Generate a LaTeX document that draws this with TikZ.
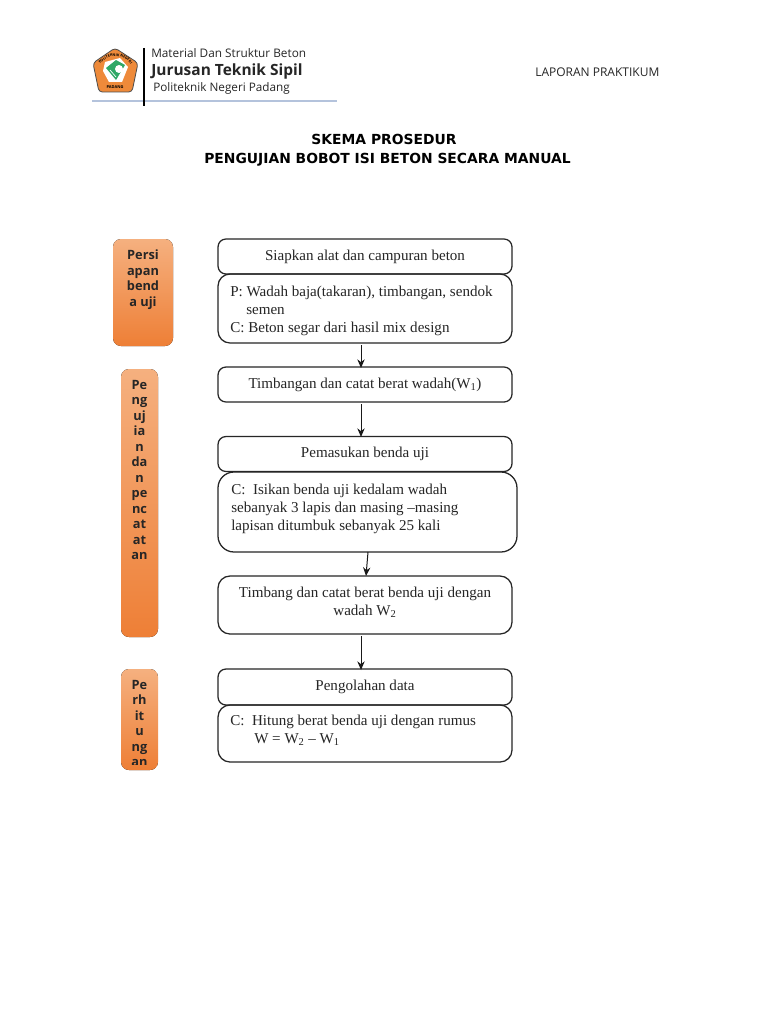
\documentclass[tikz,border=0pt]{standalone}
\usepackage{fontspec}
\setmainfont{Liberation Serif}
\newfontfamily\hdr{Open Sans}
\newfontfamily\vrd{DejaVu Sans}
\usetikzlibrary{arrows.meta,decorations.text}
\definecolor{orA}{HTML}{F5B07F}
\definecolor{orB}{HTML}{EE7F36}
\definecolor{logoor}{HTML}{EE8A3A}
\definecolor{logogreen}{HTML}{2FA866}
\definecolor{lineblue}{HTML}{B4C3DC}
\tikzset{
  x=0.75pt,y=-0.75pt,
  flowbox/.style={draw=black!85,line width=0.95pt,rounded corners=6pt,inner sep=0pt,outer sep=0pt,align=center,font=\fontsize{11.3}{13.5}\selectfont,text=black!85},
  flowtext/.style={inner sep=0pt,align=left,anchor=north west,text=black!85,font=\fontsize{11.3}{13.5}\selectfont},
  sidebox/.style={rounded corners=6pt,top color=orA,bottom color=orB,inner sep=0pt,outer sep=0pt},
  sidetext/.style={inner sep=0pt,align=center,anchor=north,text=black!85,font=\hdr\bfseries\fontsize{9.6}{11.6}\selectfont},
  arrowline/.style={draw=black!90,line width=0.75pt,-{Stealth[length=6.5pt,width=5.5pt]}},
  hdrtext/.style={inner sep=0pt,anchor=west,text=black!85},
  titletext/.style={inner sep=0pt,anchor=center,font=\vrd\bfseries\fontsize{10.4}{12}\selectfont}
}
\begin{document}
\begin{tikzpicture}
\useasboundingbox (0,0) rectangle (768,1024);
\fill[white] (0,0) rectangle (768,1024);
% logo
\fill[logoor,draw=black!70,line width=0.6pt,rounded corners=2.5pt] (115,48) -- (138,63) -- (132,92) -- (99,92) -- (93,63) -- cycle;
\fill[white] (105,62) -- (120,58) -- (128,67) -- (122,82) -- (109,82) -- (103,71) -- cycle;
\fill[logogreen] (106,68) -- (116,60) -- (125,65) -- (116,80) -- cycle;
\fill[white] (119,69) circle[radius=4];
\draw[white,line width=0.5pt] (110,70) -- (116,77);
\path[postaction={decorate,decoration={text along path,text align=center,text={|\hdr\bfseries\fontsize{2.7}{3}\selectfont|POLITEKNIK NEGERI}}}] (97,78) .. controls (95,49) and (136,49) .. (134,78);
\node[inner sep=0pt,font=\hdr\bfseries\fontsize{3}{3}\selectfont] (logot) at (115,87) {PADANG};
% header
\draw[lineblue,line width=1.4pt] (92,101) -- (337,101);
\draw[black,line width=1.2pt] (144,48) -- (144,106);
\node[hdrtext,font=\hdr\fontsize{8.85}{11}\selectfont] (h1) at (151,53) {Material Dan Struktur Beton};
\node[hdrtext,font=\hdr\bfseries\fontsize{11.6}{13}\selectfont] (h2) at (151,71) {Jurusan Teknik Sipil};
\node[hdrtext,font=\hdr\fontsize{8.8}{11}\selectfont] (h3) at (153,88.5) {Politeknik Negeri Padang};
\node[hdrtext,font=\hdr\fontsize{9}{11}\selectfont] (h4) at (535,72) {LAPORAN PRAKTIKUM};
% titles
\node[titletext] (t1) at (384,139.5) {SKEMA PROSEDUR};
\node[titletext] (t2) at (387.5,160) {PENGUJIAN BOBOT ISI BETON SECARA MANUAL};
% side boxes
\fill[sidebox] (113,239) rectangle (173,346);
\node[sidetext] (s1) at (143,250) {Persi\\apan\\bend\\a uji};
\fill[sidebox] (121,369) rectangle (158,637);
\node[sidetext] (s2) at (139.5,380) {Pe\\ng\\uj\\ia\\n\\da\\n\\pe\\nc\\at\\at\\an};
\begin{scope}
\clip[rounded corners=6pt] (121,669) rectangle (158,770);
\fill[sidebox] (121,669) rectangle (158,770);
\clip (121,669) rectangle (158,764);
\node[sidetext] (s3) at (139.5,680) {Pe\\rh\\it\\u\\ng\\an};
\end{scope}
% flow boxes
\node[flowbox,minimum width=220.5pt,minimum height=26.25pt,anchor=north west] (b1) at (218,239) {Siapkan alat dan campuran beton};
\node[flowbox,rounded corners=9pt,minimum width=220.5pt,minimum height=51.75pt,anchor=north west] (b2) at (218,274) {};
\node[flowtext] (b2t) at (230,285.5) {P: Wadah baja(takaran), timbangan, sendok\\\hspace*{12pt}semen\\C: Beton segar dari hasil mix design};
\node[flowbox,minimum width=220.5pt,minimum height=26.25pt,anchor=north west] (b3) at (218,367) {Timbangan dan catat berat wadah(W\textsubscript{1})};
\node[flowbox,minimum width=220.5pt,minimum height=26.25pt,anchor=north west] (b4) at (218,436.5) {Pemasukan benda uji};
\node[flowbox,rounded corners=12pt,minimum width=224.25pt,minimum height=60pt,anchor=north west] (b5) at (218,472) {};
\node[flowtext] (b5t) at (231,483.5) {C:\ \ Isikan benda uji kedalam wadah\\sebanyak 3 lapis dan masing –masing\\lapisan ditumbuk sebanyak 25 kali};
\node[flowbox,rounded corners=9pt,minimum width=220.5pt,minimum height=43.5pt,anchor=north west] (b6) at (218,576) {};
\node[flowtext,align=center,anchor=center] (b6t) at (365,602) {Timbang dan catat berat benda uji dengan\\wadah W\textsubscript{2}};
\node[flowbox,minimum width=220.5pt,minimum height=27pt,anchor=north west] (b7) at (218,669) {Pengolahan data};
\node[flowbox,rounded corners=9pt,minimum width=220.5pt,minimum height=42.75pt,anchor=north west] (b8) at (218,705) {};
\node[flowtext] (b8t) at (230,715) {C:\ \ Hitung berat benda uji dengan rumus\\\hspace*{18pt}W = W\textsubscript{2} – W\textsubscript{1}};
% connectors
\coordinate (a1) at (361,345); \coordinate (a1e) at (361,368);
\coordinate (a2) at (361,404); \coordinate (a2e) at (361,437);
\coordinate (a3) at (368,552); \coordinate (a3e) at (366,576);
\coordinate (a4) at (361,636); \coordinate (a4e) at (361,670);
\draw[arrowline] (a1) -- (a1e);
\draw[arrowline] (a2) -- (a2e);
\draw[arrowline] (a3) -- (a3e);
\draw[arrowline] (a4) -- (a4e);
\end{tikzpicture}
\end{document}
